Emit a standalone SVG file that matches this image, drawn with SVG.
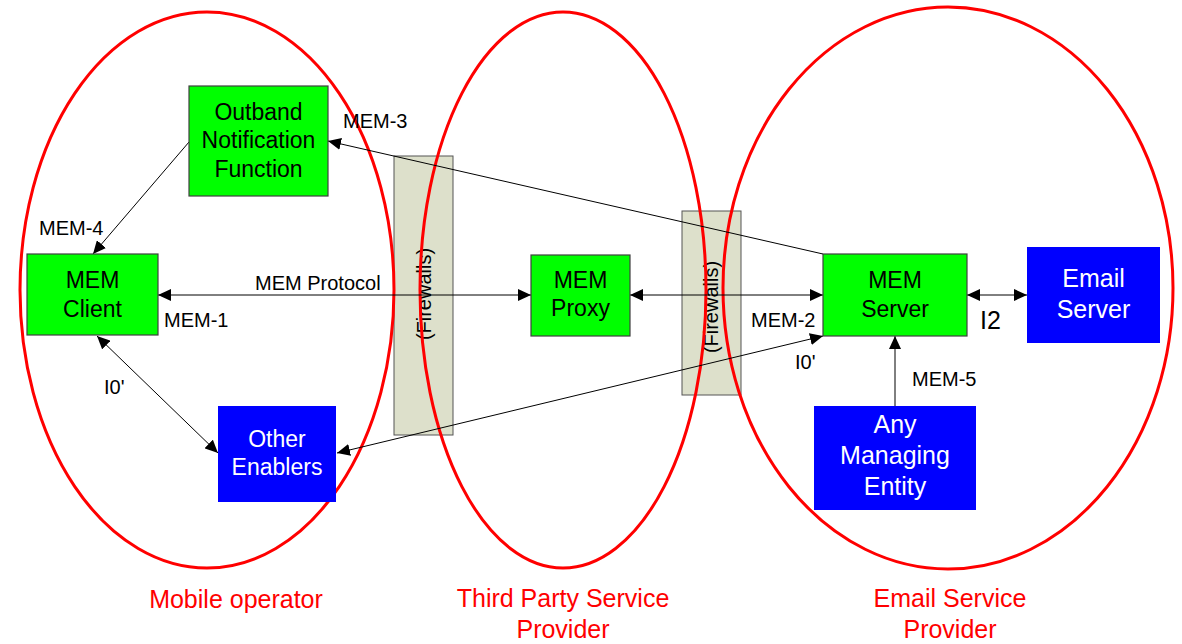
<svg xmlns="http://www.w3.org/2000/svg" width="1182" height="644" viewBox="0 0 1182 644">
  <style>
    text { font-family: "Liberation Sans", Arial, sans-serif; }
    .fw { fill: #dde0cb; stroke: #555; stroke-width: 1; }
    .fwt { font-size: 20px; fill: #000; text-anchor: middle; }
    .zone { fill: none; stroke: #ff0000; stroke-width: 3; }
    .zl { font-size: 25px; fill: #ff0000; text-anchor: middle; }
    .g { fill: #00ff00; stroke: #404040; stroke-width: 1.2; }
    .b { fill: #0000ff; stroke: none; }
    .gt { font-size: 23px; fill: #000; text-anchor: middle; }
    .bt { font-size: 25px; fill: #fff; text-anchor: middle; }
    .bt2 { font-size: 23px; fill: #fff; text-anchor: middle; }
    .lbl { font-size: 20px; fill: #000; }
    .c { stroke: #000; stroke-width: 1; fill: none; }
  </style>
  <defs>
    <marker id="ah" viewBox="0 0 13 12" refX="13" refY="6" markerWidth="13" markerHeight="12" markerUnits="userSpaceOnUse" orient="auto-start-reverse">
      <path d="M0,0 L13,6 L0,12 z" fill="#000"/>
    </marker>
  </defs>

  <g id="firewalls">
    <rect class="fw" x="394" y="156" width="59" height="279"/>
    <text class="fwt" transform="translate(431,294) rotate(-90)">(Firewalls)</text>
    <rect class="fw" x="682" y="211" width="59" height="184"/>
    <text class="fwt" transform="translate(718,307) rotate(-90)">(Firewalls)</text>
  </g>

  <g id="zones">
    <ellipse class="zone" cx="207" cy="290" rx="187" ry="278"/>
    <ellipse class="zone" cx="563" cy="290" rx="143" ry="278"/>
    <ellipse class="zone" cx="948" cy="288" rx="225" ry="281"/>
    <text class="zl" x="236" y="608">Mobile operator</text>
    <text class="zl" x="563" y="607">Third Party Service</text>
    <text class="zl" x="563" y="638">Provider</text>
    <text class="zl" x="950" y="607">Email Service</text>
    <text class="zl" x="950" y="638">Provider</text>
  </g>

  <g id="connectors">
    <line class="c" x1="189" y1="142" x2="93" y2="254" marker-end="url(#ah)"/>
    <line class="c" x1="823" y1="254" x2="328" y2="141" marker-end="url(#ah)"/>
    <line class="c" x1="158" y1="295" x2="531" y2="295" marker-start="url(#ah)" marker-end="url(#ah)"/>
    <line class="c" x1="630" y1="295" x2="823" y2="295" marker-start="url(#ah)" marker-end="url(#ah)"/>
    <line class="c" x1="97" y1="336" x2="218" y2="453" marker-start="url(#ah)" marker-end="url(#ah)"/>
    <line class="c" x1="337" y1="453" x2="823" y2="336" marker-start="url(#ah)" marker-end="url(#ah)"/>
    <line class="c" x1="967" y1="295" x2="1027" y2="295" marker-start="url(#ah)" marker-end="url(#ah)"/>
    <line class="c" x1="895" y1="406" x2="895" y2="336" marker-end="url(#ah)"/>
    <text class="lbl" x="343" y="128">MEM-3</text>
    <text class="lbl" x="39" y="235">MEM-4</text>
    <text class="lbl" x="255" y="290">MEM Protocol</text>
    <text class="lbl" x="164" y="327">MEM-1</text>
    <text class="lbl" x="104" y="394">I0'</text>
    <text class="lbl" x="751" y="327">MEM-2</text>
    <text class="lbl" x="795" y="369">I0'</text>
    <text class="lbl" x="980" y="329" style="font-size:25px">I2</text>
    <text class="lbl" x="912" y="386">MEM-5</text>
  </g>

  <g id="outband">
    <rect class="g" x="189" y="86" width="139" height="110"/>
    <text class="gt" x="258.5" y="120">Outband</text>
    <text class="gt" x="258.5" y="148">Notification</text>
    <text class="gt" x="258.5" y="177">Function</text>
  </g>
  <g id="mem-client">
    <rect class="g" x="27" y="254" width="131" height="81"/>
    <text class="gt" x="92.5" y="288">MEM</text>
    <text class="gt" x="92.5" y="317">Client</text>
  </g>
  <g id="mem-proxy">
    <rect class="g" x="531" y="255" width="99" height="81"/>
    <text class="gt" x="580.5" y="288">MEM</text>
    <text class="gt" x="580.5" y="316">Proxy</text>
  </g>
  <g id="mem-server">
    <rect class="g" x="823" y="254" width="144" height="82"/>
    <text class="gt" x="895" y="288">MEM</text>
    <text class="gt" x="895" y="317">Server</text>
  </g>
  <g id="email-server">
    <rect class="b" x="1027" y="247" width="133" height="96"/>
    <text class="bt" x="1093.5" y="287">Email</text>
    <text class="bt" x="1093.5" y="318">Server</text>
  </g>
  <g id="managing-entity">
    <rect class="b" x="814" y="406" width="162" height="104"/>
    <text class="bt" x="895" y="433">Any</text>
    <text class="bt" x="895" y="464">Managing</text>
    <text class="bt" x="895" y="495">Entity</text>
  </g>
  <g id="other-enablers">
    <rect class="b" x="218" y="406" width="118" height="96"/>
    <text class="bt2" x="277" y="447">Other</text>
    <text class="bt2" x="277" y="475">Enablers</text>
  </g>
</svg>
